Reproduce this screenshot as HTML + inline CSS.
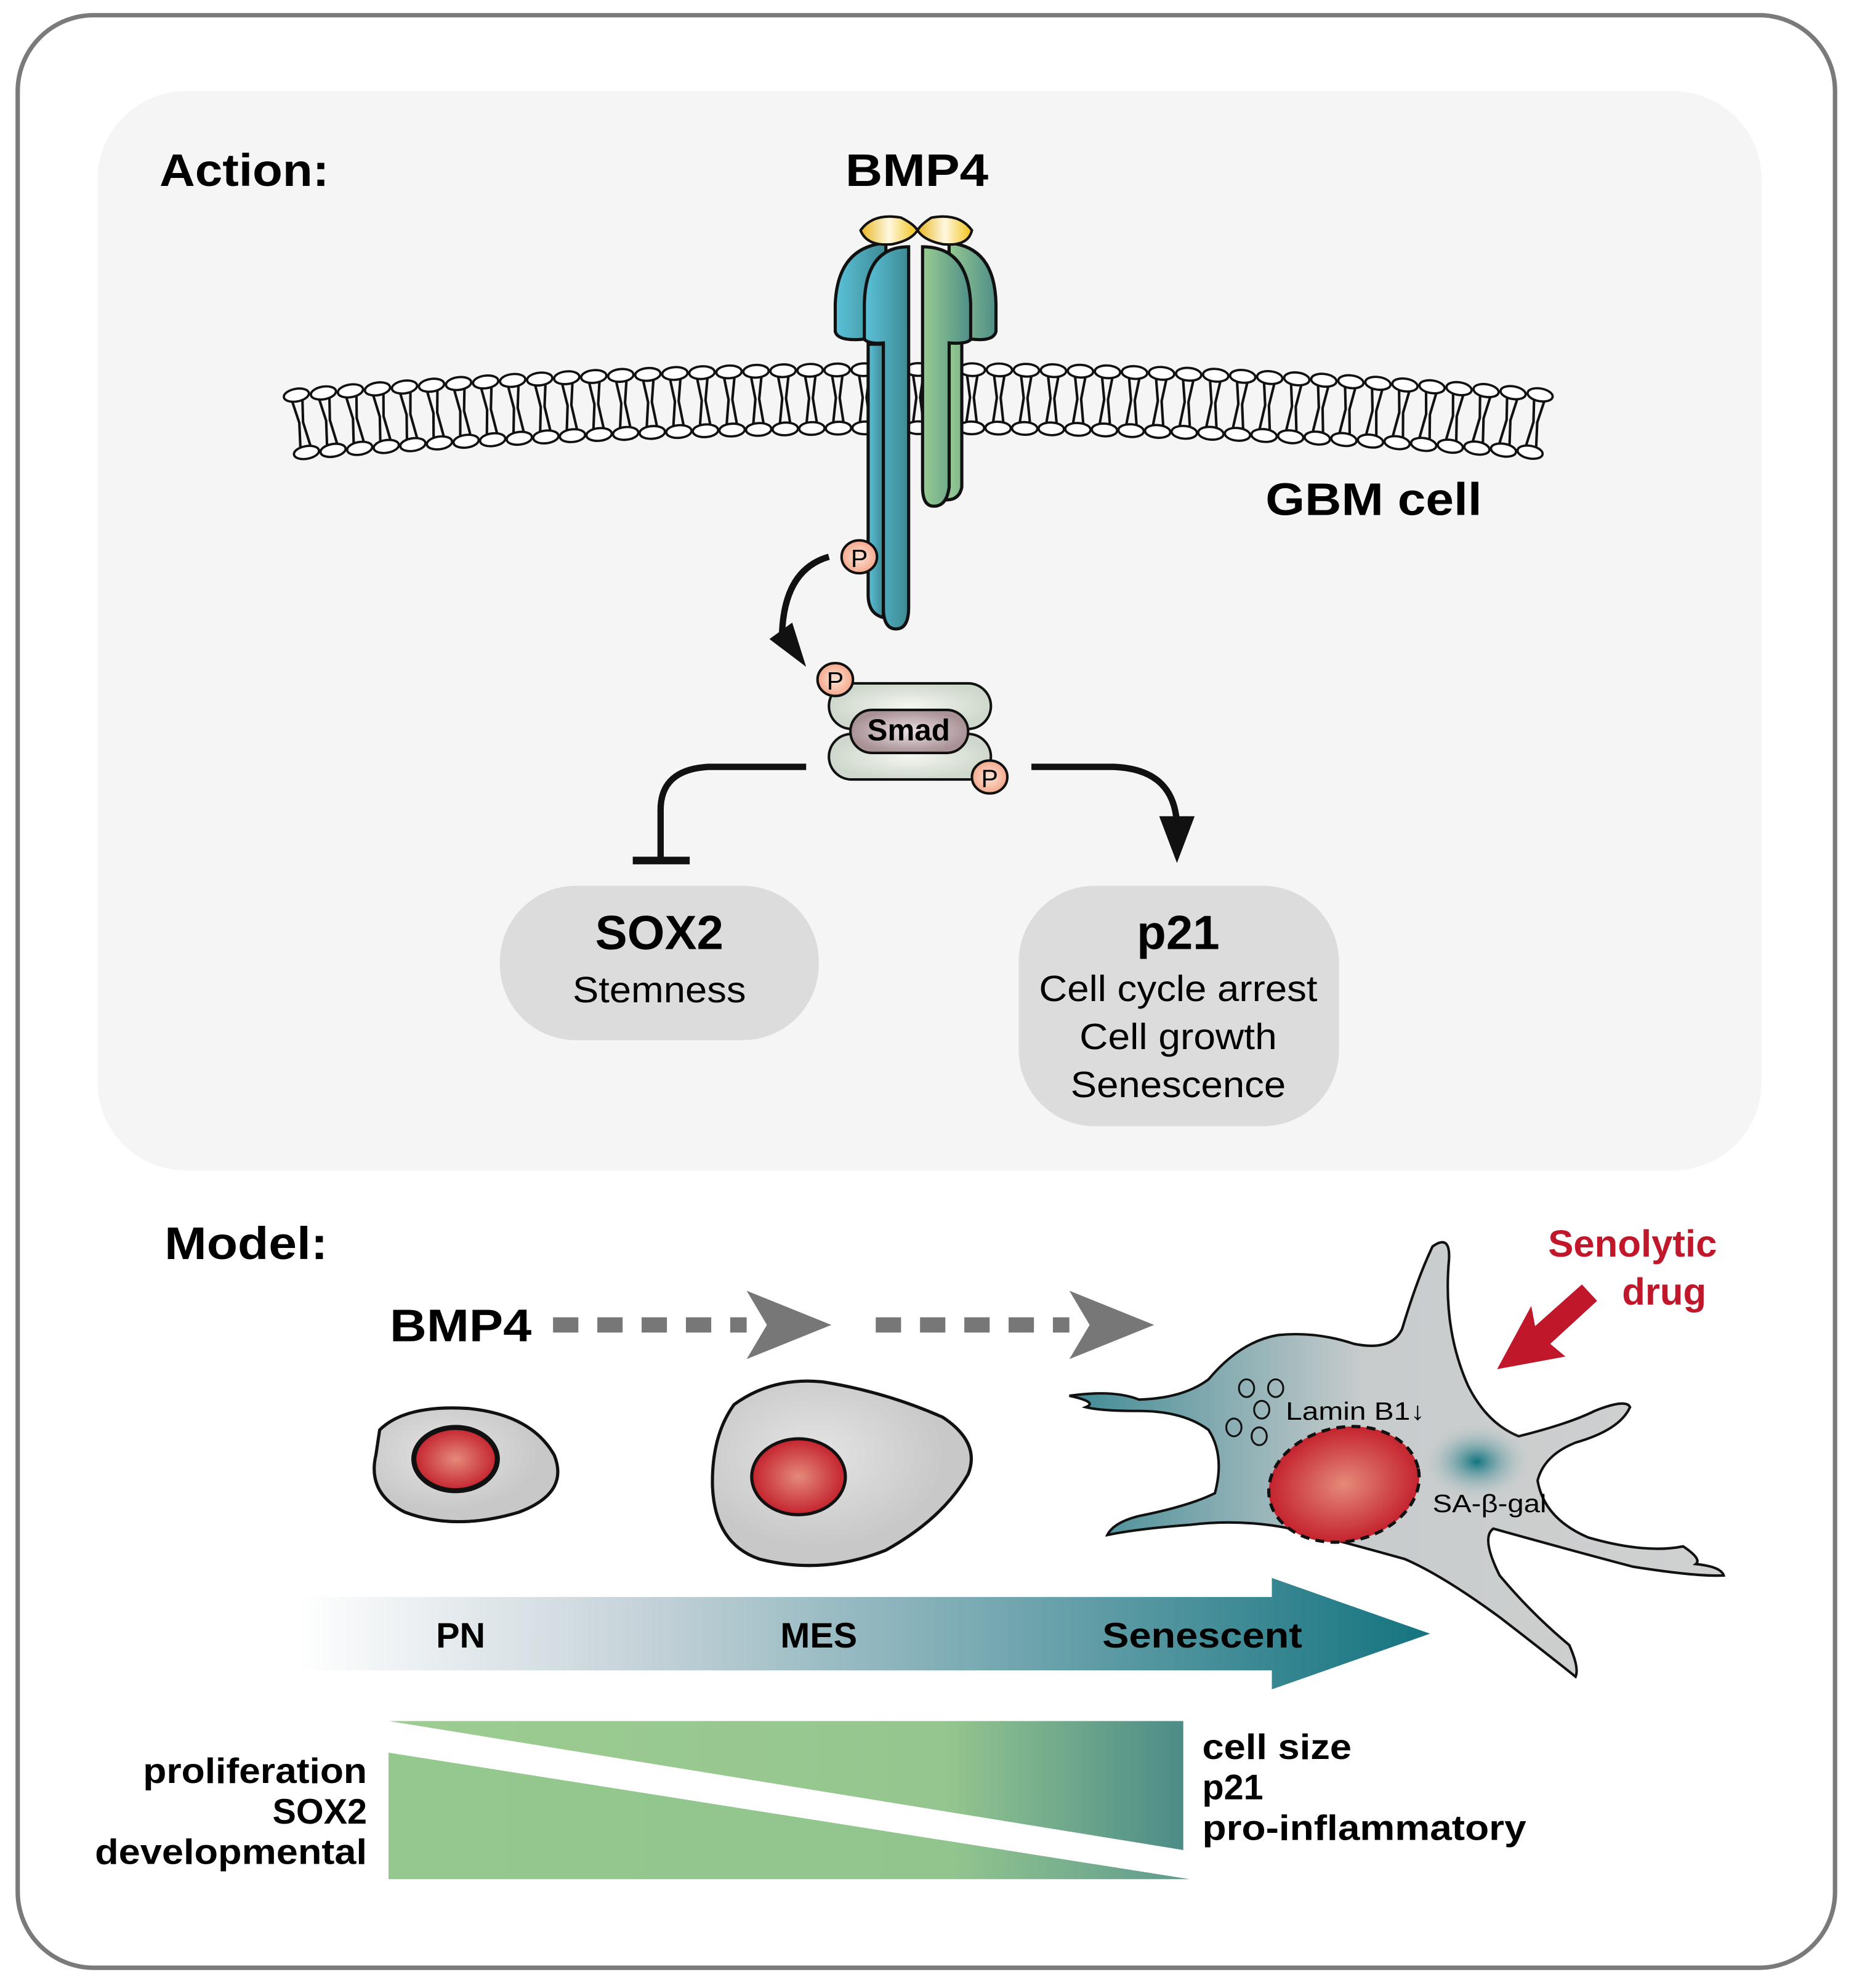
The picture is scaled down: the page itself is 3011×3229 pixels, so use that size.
<!DOCTYPE html>
<html><head><meta charset="utf-8"><style>html,body{margin:0;padding:0;background:#fff}svg{display:block}text{font-family:"Liberation Sans",sans-serif}</style></head>
<body>
<svg id="s" xmlns="http://www.w3.org/2000/svg" width="3011" height="3229" viewBox="0 0 1465 1571" preserveAspectRatio="none">
<defs>
<linearGradient id="blue" x1="0" x2="1"><stop offset="0" stop-color="#5bc2d8"/><stop offset="1" stop-color="#3d8a94"/></linearGradient>
<linearGradient id="green" x1="0" x2="1"><stop offset="0" stop-color="#98cb92"/><stop offset="1" stop-color="#4f8e88"/></linearGradient>
<linearGradient id="yel" x1="0" x2="1"><stop offset="0" stop-color="#e8b520"/><stop offset="0.5" stop-color="#fff8e0"/><stop offset="1" stop-color="#f2c21a"/></linearGradient>
<radialGradient id="pg"><stop offset="0" stop-color="#fde3d4"/><stop offset="1" stop-color="#f4a88c"/></radialGradient>
<radialGradient id="smadg"><stop offset="0" stop-color="#f4f6f0"/><stop offset="1" stop-color="#cfd8cc"/></radialGradient>
<radialGradient id="smadm"><stop offset="0" stop-color="#eadfe2"/><stop offset="1" stop-color="#a89296"/></radialGradient>
<radialGradient id="nuc"><stop offset="0" stop-color="#e58a7a"/><stop offset="1" stop-color="#c4232e"/></radialGradient>
<radialGradient id="cellg" cx="0.4" cy="0.4"><stop offset="0" stop-color="#e4e4e4"/><stop offset="1" stop-color="#c8c8c8"/></radialGradient>
<linearGradient id="senc" x1="0" x2="1"><stop offset="0" stop-color="#3f8a94"/><stop offset="0.45" stop-color="#c8cccd"/><stop offset="1" stop-color="#d0d0d0"/></linearGradient>
<radialGradient id="gal"><stop offset="0" stop-color="#0f7480"/><stop offset="1" stop-color="#d0d0d0" stop-opacity="0"/></radialGradient>
<linearGradient id="bigar" x1="235" x2="1130" gradientUnits="userSpaceOnUse"><stop offset="0" stop-color="#ffffff"/><stop offset="0.3" stop-color="#c6d3d9"/><stop offset="1" stop-color="#147480"/></linearGradient>
<linearGradient id="w1" x1="307" x2="935" gradientUnits="userSpaceOnUse"><stop offset="0" stop-color="#9ccc91"/><stop offset="0.7" stop-color="#95c68f"/><stop offset="1" stop-color="#4c8c88"/></linearGradient>
<linearGradient id="w2" x1="307" x2="940" gradientUnits="userSpaceOnUse"><stop offset="0" stop-color="#94c88e"/><stop offset="0.7" stop-color="#92c58e"/><stop offset="1" stop-color="#5f9a8f"/></linearGradient>
</defs>
<rect x="14" y="12" width="1436" height="1543" rx="60" fill="#fff" stroke="#7a7a7a" stroke-width="3.5"/>
<rect x="77" y="72" width="1315" height="853" rx="70" fill="#f5f5f5"/>
<text x="126" y="147" font-size="36" font-weight="bold" textLength="134" lengthAdjust="spacingAndGlyphs">Action:</text>
<text x="668" y="147" font-size="36" font-weight="bold" textLength="113" lengthAdjust="spacingAndGlyphs">BMP4</text>
<text x="1000" y="407" font-size="36" font-weight="bold" textLength="171" lengthAdjust="spacingAndGlyphs">GBM cell</text>
<g id="lip"></g>
<!-- receptor -->
<g stroke="#111" stroke-width="2.5">
<path d="M700 270 L700 380 Q700 395 712 397 L712 270 Z" fill="url(#blue)"/>
<path d="M700 192 Q662 195 660 240 L660 262 Q662 270 683 268 L700 270 Z" fill="url(#blue)"/>
<path d="M718 195 Q684 195 683 240 L683 268 Q686 272 698 271 L698 480 Q698 497 708 497 Q718 497 718 480 Z" fill="url(#blue)"/>
<path d="M686 272 L686 470 Q686 485 698 488 L698 272 Z" fill="url(#blue)"/>
<path d="M750 192 Q786 195 787 240 L787 262 Q785 270 768 268 L760 270 L760 385 Q758 395 748 395 Z" fill="url(#green)"/>
<path d="M729 195 Q765 195 767 240 L767 268 Q765 272 750 271 L750 385 Q748 400 738 400 Q729 400 729 385 Z" fill="url(#green)"/>
<path d="M680 182 Q690 168 712 172 Q722 177 725 182 Q720 190 705 193 Q685 195 680 182 Z" fill="url(#yel)" stroke-width="2"/>
<path d="M768 182 Q758 168 736 172 Q728 177 725 182 Q730 190 745 193 Q765 195 768 182 Z" fill="url(#yel)" stroke-width="2"/>
</g>
<path d="M655 440 Q620 450 618 500" fill="none" stroke="#111" stroke-width="5"/>
<polygon points="608,505 637,527 626,492" fill="#111"/>
<g stroke="#111" stroke-width="2"><ellipse cx="679" cy="440" rx="14" ry="13" fill="url(#pg)"/></g>
<text x="679" y="448" font-size="20" text-anchor="middle">P</text>
<g stroke="#111" stroke-width="2">
<rect x="655" y="540" width="128" height="36" rx="18" fill="url(#smadg)"/>
<rect x="655" y="580" width="128" height="36" rx="18" fill="url(#smadg)"/>
<rect x="672" y="561" width="93" height="34" rx="17" fill="url(#smadm)"/>
<ellipse cx="660" cy="537" rx="14" ry="13" fill="url(#pg)"/>
<ellipse cx="782" cy="614" rx="14" ry="13" fill="url(#pg)"/>
</g>
<text x="718" y="585" font-size="24" font-weight="bold" text-anchor="middle">Smad</text>
<text x="660" y="545" font-size="20" text-anchor="middle">P</text>
<text x="782" y="622" font-size="20" text-anchor="middle">P</text>
<path d="M637 606 L560 606 Q522 608 522 640 L522 680" fill="none" stroke="#111" stroke-width="5"/>
<line x1="500" y1="680" x2="545" y2="680" stroke="#111" stroke-width="6"/>
<path d="M815 606 L880 606 Q930 608 930 655" fill="none" stroke="#111" stroke-width="5"/>
<polygon points="916,645 944,645 930,682" fill="#111"/>
<rect x="395" y="700" width="252" height="122" rx="60" fill="#dcdcdc"/>
<text x="521" y="750" font-size="38" font-weight="bold" text-anchor="middle">SOX2</text>
<text x="521" y="792" font-size="29" text-anchor="middle" textLength="137" lengthAdjust="spacingAndGlyphs">Stemness</text>
<rect x="805" y="700" width="253" height="190" rx="60" fill="#dcdcdc"/>
<text x="931" y="750" font-size="38" font-weight="bold" text-anchor="middle">p21</text>
<text x="931" y="791" font-size="29" text-anchor="middle" textLength="220" lengthAdjust="spacingAndGlyphs">Cell cycle arrest</text>
<text x="931" y="829" font-size="29" text-anchor="middle" textLength="156" lengthAdjust="spacingAndGlyphs">Cell growth</text>
<text x="931" y="867" font-size="29" text-anchor="middle" textLength="170" lengthAdjust="spacingAndGlyphs">Senescence</text>
<text x="130" y="995" font-size="36" font-weight="bold" textLength="129" lengthAdjust="spacingAndGlyphs">Model:</text>
<text x="308" y="1060" font-size="36" font-weight="bold" textLength="112" lengthAdjust="spacingAndGlyphs">BMP4</text>
<line x1="437" y1="1047" x2="590" y2="1047" stroke="#777" stroke-width="12" stroke-dasharray="20 15"/>
<polygon points="590,1020 657,1047 590,1074 606,1047" fill="#777"/>
<line x1="692" y1="1047" x2="845" y2="1047" stroke="#777" stroke-width="12" stroke-dasharray="20 15"/>
<polygon points="845,1020 912,1047 845,1074 861,1047" fill="#777"/>
<path d="M300 1130 Q320 1110 370 1113 Q420 1118 438 1150 Q450 1180 410 1195 Q360 1210 320 1195 Q290 1180 297 1150 Z" fill="url(#cellg)" stroke="#111" stroke-width="2.5"/>
<ellipse cx="360" cy="1153" rx="33" ry="25" fill="url(#nuc)" stroke="#111" stroke-width="4"/>
<path d="M580 1110 Q610 1088 650 1092 Q700 1100 745 1120 Q775 1140 765 1165 Q745 1200 700 1225 Q650 1245 600 1232 Q565 1220 563 1175 Q562 1135 580 1110 Z" fill="url(#cellg)" stroke="#111" stroke-width="2.5"/>
<ellipse cx="631" cy="1167" rx="37" ry="30" fill="url(#nuc)" stroke="#111" stroke-width="2.5"/>
<path d="M845 1103 Q880 1098 900 1106 Q935 1105 955 1090 Q980 1060 1010 1055 Q1040 1052 1070 1062 Q1100 1068 1108 1050 Q1120 1010 1132 985 Q1146 975 1145 995 Q1140 1050 1160 1095 Q1175 1125 1200 1135 Q1240 1125 1260 1115 Q1285 1105 1288 1112 Q1280 1130 1245 1140 Q1220 1150 1215 1170 Q1220 1200 1255 1215 Q1300 1228 1330 1222 Q1345 1232 1340 1236 Q1360 1238 1362 1245 Q1340 1246 1290 1238 Q1230 1222 1180 1208 Q1170 1215 1185 1245 Q1210 1275 1240 1300 Q1248 1318 1245 1325 Q1220 1305 1185 1278 Q1140 1245 1110 1232 Q1060 1218 1020 1208 Q980 1200 940 1205 Q900 1208 875 1213 Q880 1203 900 1198 Q940 1190 960 1180 Q968 1150 955 1130 Q935 1115 900 1115 Q870 1115 858 1112 Q868 1108 845 1103 Z" fill="url(#senc)" stroke="#111" stroke-width="2"/>
<ellipse cx="1167" cy="1155" rx="45" ry="32" fill="url(#gal)"/>
<ellipse cx="1062" cy="1173" rx="60" ry="45" transform="rotate(-12 1062 1173)" fill="url(#nuc)" stroke="#111" stroke-width="2.5" stroke-dasharray="7 5"/>
<g fill="none" stroke="#111" stroke-width="1.5">
<ellipse cx="985" cy="1097" rx="6" ry="7"/><ellipse cx="1008" cy="1097" rx="6" ry="7"/><ellipse cx="997" cy="1114" rx="6" ry="7"/><ellipse cx="975" cy="1128" rx="6" ry="7"/><ellipse cx="995" cy="1135" rx="6" ry="7"/></g>
<text x="1016" y="1122" font-size="20" textLength="110" lengthAdjust="spacingAndGlyphs">Lamin B1↓</text>
<text x="1132" y="1195" font-size="20" textLength="90" lengthAdjust="spacingAndGlyphs">SA-β-gal</text>
<text x="1290" y="993" font-size="30" font-weight="bold" fill="#c0172a" text-anchor="middle">Senolytic</text>
<text x="1315" y="1031" font-size="30" font-weight="bold" fill="#c0172a" text-anchor="middle">drug</text>
<polygon points="1250,1015 1262,1028 1225,1062 1237,1072 1183,1082 1210,1032 1213,1048" fill="#c0172a"/>
<polygon points="235,1262 1005,1262 1005,1247 1130,1291 1005,1335 1005,1320 235,1320" fill="url(#bigar)"/>
<text x="364" y="1302" font-size="28" font-weight="bold" text-anchor="middle">PN</text>
<text x="647" y="1302" font-size="28" font-weight="bold" text-anchor="middle">MES</text>
<text x="950" y="1302" font-size="28" font-weight="bold" text-anchor="middle" textLength="158" lengthAdjust="spacingAndGlyphs">Senescent</text>
<polygon points="307,1360 935,1360 935,1462" fill="url(#w1)"/>
<polygon points="307,1385 940,1485 307,1485" fill="url(#w2)"/>
<g font-size="28" font-weight="bold" text-anchor="end"><text x="290" y="1409" textLength="177" lengthAdjust="spacingAndGlyphs">proliferation</text><text x="290" y="1441">SOX2</text><text x="290" y="1473" textLength="215" lengthAdjust="spacingAndGlyphs">developmental</text></g>
<g font-size="28" font-weight="bold"><text x="950" y="1390" textLength="118" lengthAdjust="spacingAndGlyphs">cell size</text><text x="950" y="1422">p21</text><text x="950" y="1454" textLength="256" lengthAdjust="spacingAndGlyphs">pro-inflammatory</text></g>
</svg>
<script>
var g=document.getElementById('lip'),h='';
for(var x=238;x<=1216;x+=21.2){
 var t=(x-727)/490, yt=292+t*t*20, ang=t*10;
 h+='<g transform="rotate('+ang+' '+x+' '+(yt+22)+')">'+
 '<ellipse cx="'+x+'" cy="'+yt+'" rx="10" ry="5" fill="#fff" stroke="#111" stroke-width="1.8"/>'+
 '<ellipse cx="'+x+'" cy="'+(yt+46)+'" rx="10" ry="5" fill="#fff" stroke="#111" stroke-width="1.8"/>'+
 '<path d="M'+(x-4)+' '+(yt+5)+' L'+(x-1.5)+' '+(yt+22)+' L'+(x-4)+' '+(yt+41)+' M'+(x+4)+' '+(yt+5)+' L'+(x+1.5)+' '+(yt+22)+' L'+(x+4)+' '+(yt+41)+'" fill="none" stroke="#111" stroke-width="2"/></g>';
}
g.innerHTML=h;
</script>
</body></html>
